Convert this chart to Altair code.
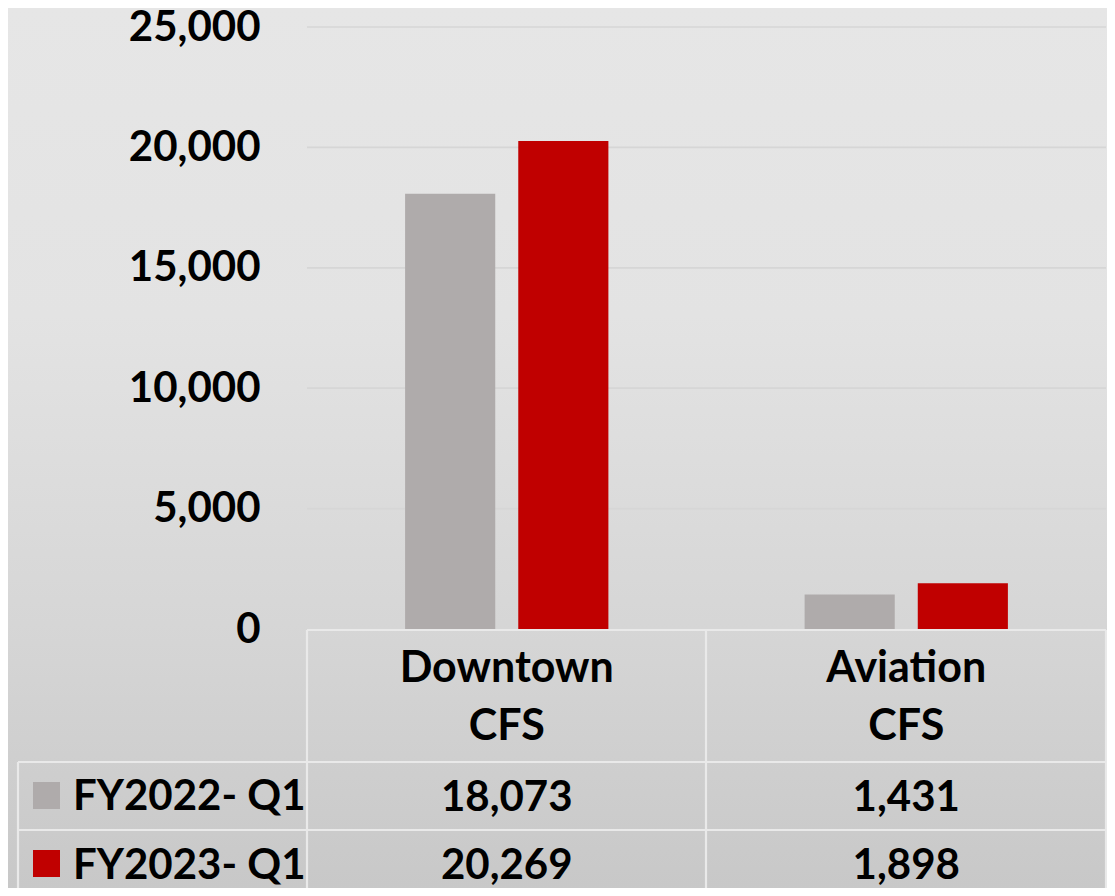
import altair as alt
import pandas as pd

categories = ["Downtown CFS", "Aviation CFS"]
series = ["FY2022- Q1", "FY2023- Q1"]
fy2022 = [18073, 1431]
fy2023 = [20269, 1898]
colors = ["#AFABAB", "#C00000"]
y_ticks = [0, 5000, 10000, 15000, 20000, 25000]

rows = []
for s, vals in zip(series, [fy2022, fy2023]):
    for c, v in zip(categories, vals):
        rows.append({"category": c, "series": s, "value": v})
df = pd.DataFrame(rows)
leg = pd.DataFrame({"series": series})
hdr = pd.DataFrame({"category": categories})
ticks = pd.DataFrame({"value": y_ticks})
one = pd.DataFrame({"a": [0]})

FONT = "Lato"
W, H = 799, 602
PL, PT = 299, 19
TOTW, TOTH = 1099, 880

xenc = alt.X("category:N", sort=categories,
             scale=alt.Scale(paddingInner=0, paddingOuter=0), axis=None)
cenc = alt.Color("series:N", scale=alt.Scale(domain=series, range=colors), legend=None)
yscale = alt.Scale(domain=[0, 25000], nice=False)
yaxis = alt.Axis(values=y_ticks, labelExpr="format(datum.value, ',.0f')", title=None,
                 domain=False, ticks=False,
                 labelFont=FONT, labelFontWeight="bold", labelFontSize=42,
                 labelColor="black", labelPadding=47, grid=False, zindex=1)

bg = alt.Chart(one).mark_rect(
    fill=alt.Gradient(gradient="linear", x1=0, y1=0, x2=0, y2=1,
                      stops=[alt.GradientStop(color="#e6e6e6", offset=0),
                             alt.GradientStop(color="#e3e3e3", offset=0.35),
                             alt.GradientStop(color="#d6d6d6", offset=0.7),
                             alt.GradientStop(color="#c8c8c8", offset=1)])
).encode(x=alt.value(-PL), x2=alt.value(TOTW - PL), y=alt.value(-PT), y2=alt.value(TOTH - PT))

grid = alt.Chart(ticks).mark_rule(color="#d6d6d6", strokeWidth=1.7).encode(
    y=alt.Y("value:Q", scale=yscale, axis=yaxis),
    x=alt.value(0), x2=alt.value(W),
)

bars = alt.Chart(df).mark_bar().encode(
    x=xenc,
    xOffset=alt.XOffset("series:N", sort=series,
                        scale=alt.Scale(paddingInner=0.2035, paddingOuter=0.867)),
    y=alt.Y("value:Q", scale=yscale, axis=yaxis),
    color=cenc,
)

LC = "#e9e9e9"
LW = 2.2
def rule(x1, x2, y1, y2):
    return alt.Chart(one).mark_rule(color=LC, strokeWidth=LW).encode(
        x=alt.value(x1), x2=alt.value(x2), y=alt.value(y1), y2=alt.value(y2))

lines = [
    rule(0, W, 603, 603),
    rule(-289, W, 735, 735),
    rule(-289, W, 803, 803),
    rule(-289, W, 871, 871),
    rule(-289, -289, 735, 900),
    rule(0, 0, 603, 900),
    rule(399, 399, 603, 900),
    rule(W, W, 603, 900),
]

header = alt.Chart(hdr).mark_text(
    font=FONT, fontWeight="bold", fontSize=43, color="black",
    lineBreak=" ", lineHeight=58, baseline="alphabetic", align="center"
).encode(x=xenc, y=alt.value(655), text="category:N")

vals = []
for s, yb in zip(series, [784, 852]):
    vals.append(alt.Chart(df).transform_filter(alt.datum.series == s).mark_text(
        font=FONT, fontWeight="bold", fontSize=42, color="black",
        baseline="alphabetic", align="center"
    ).encode(x=xenc, y=alt.value(yb), text=alt.Text("value:Q", format=",")))

legs = []
for s, yt, yb in zip(series, [755, 823], [783, 852]):
    legs.append(alt.Chart(leg).transform_filter(alt.datum.series == s).mark_rect().encode(
        x=alt.value(-274), x2=alt.value(-247), y=alt.value(yt), y2=alt.value(yt + 27),
        color=cenc))
    legs.append(alt.Chart(leg).transform_filter(alt.datum.series == s).mark_text(
        font=FONT, fontWeight="bold", fontSize=42, color="black",
        baseline="alphabetic", align="left"
    ).encode(x=alt.value(-234), y=alt.value(yb), text="series:N"))

chart = alt.layer(bg, grid, bars, *lines, header, *vals, *legs).properties(
    width=W, height=H,
    autosize=alt.AutoSizeParams(type="none"),
    padding={"left": PL, "top": PT, "right": TOTW - PL - W, "bottom": TOTH - PT - H},
    background="#d8d8d8",
).configure_view(strokeWidth=0)

chart.save("out.html", embed_options={"renderer": "svg", "actions": False})
